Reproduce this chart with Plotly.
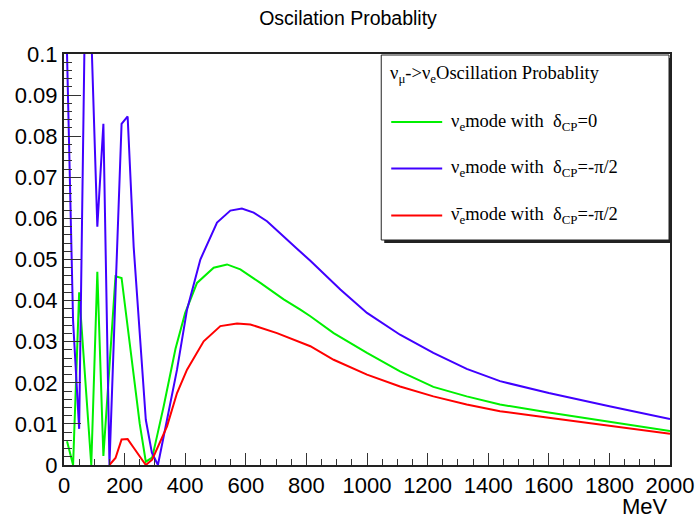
import plotly.graph_objects as go

# ---------------- data ----------------
energy_blue = [10, 30, 50, 70, 90, 110, 130, 150, 170, 190, 210, 230, 250, 270, 290, 310,
               340, 373, 406, 450, 505, 549, 587, 626, 670, 725, 769, 813, 912, 1000,
               1109, 1219, 1329, 1439, 1600, 1800, 2000]
prob_blue = [0.100, 0.035, 0.0088, 0.115, 0.105, 0.058, 0.083, 0.0, 0.042, 0.083, 0.0848,
             0.053, 0.032, 0.011, 0.003, 0.0,
             0.011, 0.0232, 0.0378, 0.050, 0.0590, 0.0619, 0.0624, 0.0614, 0.0593, 0.0555,
             0.0526, 0.0497, 0.0427, 0.037, 0.0317, 0.0273, 0.0234, 0.0204, 0.0175, 0.0143, 0.0112]

energy_green = [10, 30, 50, 70, 90, 110, 130, 150, 170, 190, 210, 230, 250, 270, 291, 310,
                329, 368, 400, 439, 494, 538, 582, 648, 725, 780, 813, 890, 1000, 1109,
                1219, 1329, 1439, 1600, 1800, 2000]
prob_green = [0.0058, 0.0, 0.042, 0.021, 0.0, 0.047, 0.0022, 0.024, 0.0459, 0.0455, 0.034,
              0.022, 0.010, 0.0008, 0.0018, 0.008,
              0.0143, 0.0283, 0.037, 0.0443, 0.048, 0.0488, 0.0476, 0.0443, 0.0403, 0.0378,
              0.0362, 0.0321, 0.0273, 0.0228, 0.0190, 0.0167, 0.0147, 0.0128, 0.0105, 0.0083]

energy_red = [150, 170, 190, 210, 230, 250, 270, 291, 340, 373, 406, 461, 516, 571, 615, 703,
              780, 813, 890, 1000, 1109, 1219, 1329, 1439, 1600, 1800, 2000]
prob_red = [0.0, 0.0017, 0.0062, 0.0063, 0.0042, 0.0021, 0.0, 0.0013, 0.0094, 0.0175, 0.0232,
            0.0301, 0.0338, 0.0344, 0.0342, 0.0321, 0.0299, 0.0289, 0.0256, 0.022, 0.0191,
            0.0167, 0.0147, 0.0131, 0.0115, 0.0095, 0.0076]

x_tickvals = [0, 200, 400, 600, 800, 1000, 1200, 1400, 1600, 1800, 2000]
x_ticktext = ["0", "200", "400", "600", "800", "1000", "1200", "1400", "1600", "1800", "2000"]
y_tickvals = [0, 0.01, 0.02, 0.03, 0.04, 0.05, 0.06, 0.07, 0.08, 0.09, 0.1]
y_ticktext = ["0", "0.01", "0.02", "0.03", "0.04", "0.05", "0.06", "0.07", "0.08", "0.09", "0.1"]

legend_header = "ν<sub>μ</sub>->ν<sub>e</sub>Oscillation Probablity"
legend_labels = ["ν<sub>e</sub>mode with  δ<sub>CP</sub>=0",
                 "ν<sub>e</sub>mode with  δ<sub>CP</sub>=-π/2",
                 "ν\u0304<sub>e</sub>mode with  δ<sub>CP</sub>=-π/2"]

GREEN = "#00f000"
BLUE = "#4000ff"
RED = "#ff0000"
colors = [GREEN, BLUE, RED]

# ---------------- figure ----------------
W, H = 696, 518
L, R, T, B = 63.5, 26, 54, 53
pw, ph = W - L - R, H - T - B

fig = go.Figure()
for xs, ys, c in [(energy_green, prob_green, GREEN),
                  (energy_blue, prob_blue, BLUE),
                  (energy_red, prob_red, RED)]:
    fig.add_trace(go.Scatter(x=xs, y=ys, mode="lines",
                             line=dict(color=c, width=2), showlegend=False,
                             hoverinfo="x+y"))

tickfont = dict(family="Liberation Sans, Arial, sans-serif", size=22, color="black")

fig.update_layout(
    width=W, height=H,
    margin=dict(l=L, r=R, t=T, b=B, autoexpand=False),
    paper_bgcolor="white", plot_bgcolor="white",
    title=dict(text="Oscilation Probablity", x=0.5, xanchor="center",
               y=1 - 18 / H, yanchor="middle",
               font=dict(family="Liberation Sans, Arial, sans-serif", size=19.5, color="black")),
    xaxis=dict(range=[0, 2000], tickvals=x_tickvals, ticktext=x_ticktext,
               ticks="inside", ticklen=12, tickwidth=1, tickcolor="#333",
               minor=dict(dtick=50, ticks="inside", ticklen=6, tickwidth=1, tickcolor="#333"),
               showline=True, linewidth=2, linecolor="#222", mirror=True, automargin=False,
               showgrid=False, zeroline=False, tickfont=tickfont),
    yaxis=dict(range=[0, 0.1], tickvals=y_tickvals, ticktext=y_ticktext,
               ticks="inside", ticklen=17, tickwidth=1, tickcolor="#333",
               minor=dict(dtick=0.002, ticks="inside", ticklen=8, tickwidth=1, tickcolor="#333"),
               showline=True, linewidth=2, linecolor="#222", mirror=True, automargin=False,
               showgrid=False, zeroline=False, tickfont=tickfont),
)

# axis title
fig.add_annotation(text="MeV", xref="paper", yref="paper", x=1.0, xanchor="right",
                   y=(465 - 506) / ph, yanchor="middle", showarrow=False,
                   font=tickfont)

# ---------------- custom ROOT-style legend ----------------
def px2x(px):
    return (px - L) / pw

def py2y(py):
    return (H - B - py) / ph

bx0, bx1, by0, by1 = 381, 669, 55, 240
sh = 3
fig.add_shape(type="rect", xref="paper", yref="paper",
              x0=px2x(bx0 + sh), x1=px2x(bx1 + sh), y0=py2y(by1 + sh), y1=py2y(by0 + sh),
              line=dict(width=0), fillcolor="#222", layer="above")
fig.add_shape(type="rect", xref="paper", yref="paper",
              x0=px2x(bx0), x1=px2x(bx1), y0=py2y(by1), y1=py2y(by0),
              line=dict(width=1, color="#222"), fillcolor="white", layer="above")

legfont = dict(family="Liberation Serif, Times New Roman, serif", size=18.5, color="black")
fig.add_annotation(text=legend_header, xref="paper", yref="paper",
                   x=px2x(388), xanchor="left", y=py2y(74), yanchor="middle",
                   showarrow=False, font=legfont)
entry_y = [122, 168.5, 215.5]
for lab, c, yy in zip(legend_labels, colors, entry_y):
    fig.add_shape(type="line", xref="paper", yref="paper",
                  x0=px2x(391), x1=px2x(442), y0=py2y(yy), y1=py2y(yy),
                  line=dict(color=c, width=2), layer="above")
    fig.add_annotation(text=lab, xref="paper", yref="paper",
                       x=px2x(449), xanchor="left", y=py2y(yy), yanchor="middle",
                       showarrow=False, font=legfont)

fig.write_html("out.html")
